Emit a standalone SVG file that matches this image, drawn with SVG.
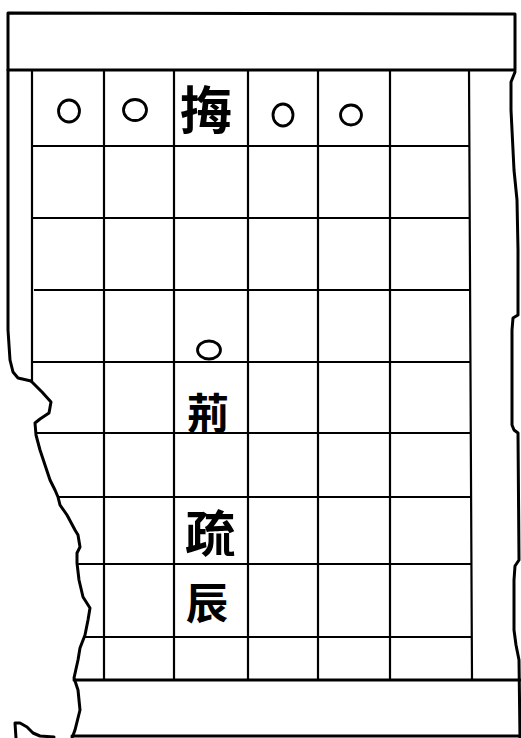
<svg xmlns="http://www.w3.org/2000/svg" width="521" height="738" viewBox="0 0 521 738">
<style>
.edge{fill:none;stroke:#000;stroke-width:3;stroke-linejoin:round;stroke-linecap:round}
.grid{fill:none;stroke:#000;stroke-width:2.2}
.ring{fill:none;stroke:#000;stroke-width:2.8}
.ch{font-family:"Noto Sans CJK TC","Noto Sans CJK SC",sans-serif;font-weight:700;fill:#000;text-anchor:middle;dominant-baseline:central}
</style>
<rect width="521" height="738" fill="#fff"/>
<g id="frame">
<path class="edge" d="M8,13 L515,14 L515,70 L8,70 Z"/>
<path class="edge" d="M8,70 L8,330 L10,360 L13,372 L18,378 L31,381"/>
<path class="edge" d="M515,72 L511,82 L511,110 L514,170 L517,200 L518,250 L518,315 L513,318 L512,330 L512,425 L514,430 L518,433 L519,560 L515,566 L514,580 L514,630 L516,645 L519,660 L520,738"/>
<path class="edge" d="M31,381 L42,392 L51,402 L49,413 L40,419 L35,423 L36,435 L40,450 L45,465 L50,480 L55,490 L58,497 L60,505 L67,515 L75,530 L78,535 L80,547 L77,553 L77,563 L79,580 L83,597 L90,608 L88,620 L85,635 L80,648 L78,660 L74,678 L78,690 L80,710 L75,730 L72,738"/>
<path class="edge" d="M16,738 L15,723 L20,723 L27,727 L33,733 L40,736 L54,737"/>
</g>
<g id="grid">
<path class="grid" d="M32,70 V381 M104,70 V680 M174,70 V680 M248,70 V680 M318,70 V680 M390,70 V680 M469,70 L472,680"/>
<path class="grid" d="M32,146 H469 M32,218 H470 M34,290 H470 M32,362 H470 M37,433 H471 M58,497 H471 M77,564 H471 M85,637 H472"/>
<path class="edge" d="M74,680 H520 M72,736 H520"/>
</g>
<g id="marks">
<ellipse class="ring" cx="69" cy="111" rx="10.5" ry="11"/>
<ellipse class="ring" cx="135" cy="110" rx="11.5" ry="10.5"/>
<ellipse class="ring" cx="283" cy="115" rx="10" ry="11"/>
<ellipse class="ring" cx="351" cy="115" rx="10.5" ry="10"/>
<ellipse class="ring" cx="209" cy="350" rx="11.5" ry="9"/>
</g>
<g id="text">
<text class="ch" x="206" y="107" font-size="52">挴</text>
<text class="ch" x="208" y="410" font-size="42">荊</text>
<text class="ch" x="210" y="530" font-size="50">疏</text>
<text class="ch" x="207" y="600" font-size="42">辰</text>
</g>
</svg>
